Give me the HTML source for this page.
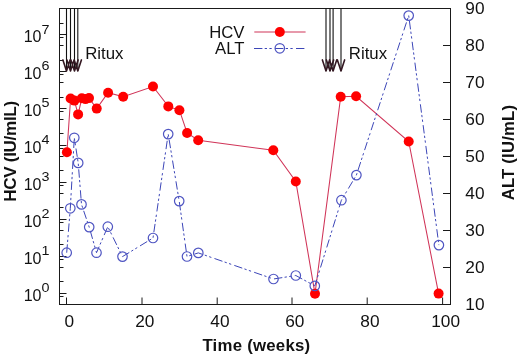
<!DOCTYPE html><html><head><meta charset="utf-8"><style>html,body{margin:0;padding:0;background:#fff;}svg{display:block;will-change:transform;}text{font-family:"Liberation Sans",sans-serif;}</style></head><body>
<svg width="520" height="358" viewBox="0 0 520 358">
<rect x="0" y="0" width="520" height="358" fill="#fff"/>
<path d="M59.5,293.50H66.5M59.5,256.50H66.5M59.5,219.50H66.5M59.5,182.50H66.5M59.5,145.50H66.5M59.5,108.50H66.5M59.5,71.50H66.5M59.5,34.50H66.5M59.5,296.50H63.5M59.5,281.50H63.5M59.5,267.50H63.5M59.5,259.50H63.5M59.5,244.50H63.5M59.5,230.50H63.5M59.5,222.50H63.5M59.5,207.50H63.5M59.5,193.50H63.5M59.5,185.50H63.5M59.5,170.50H63.5M59.5,156.50H63.5M59.5,148.50H63.5M59.5,133.50H63.5M59.5,119.50H63.5M59.5,111.50H63.5M59.5,97.50H63.5M59.5,82.50H63.5M59.5,74.50H63.5M59.5,60.50H63.5M59.5,45.50H63.5M59.5,37.50H63.5M59.5,23.50H63.5M450.5,267.50H443.0M450.5,230.50H443.0M450.5,193.50H443.0M450.5,156.50H443.0M450.5,119.50H443.0M450.5,82.50H443.0M450.5,45.50H443.0M66.50,304.5V297.5M142.00,304.5V297.5M217.20,304.5V297.5M292.00,304.5V297.5M367.20,304.5V297.5M442.60,304.5V297.5" stroke="#1a1a1a" stroke-width="1" fill="none"/>
<rect x="59.5" y="8.5" width="391.0" height="296.0" fill="none" stroke="#1a1a1a" stroke-width="1"/>
<path d="M66.5,8.5V71.0M70.5,8.5V71.0M74.5,8.5V71.0M77.8,8.5V71.0M326.0,8.5V71.0M330.0,8.5V71.0M333.1,8.5V71.0M341.0,8.5V71.0" stroke="#111" stroke-width="1.1" fill="none"/>
<path d="M62.9,59.9L66.5,71.0L70.1,59.9M66.9,59.9L70.5,71.0L74.1,59.9M70.9,59.9L74.5,71.0L78.1,59.9M74.2,59.9L77.8,71.0L81.4,59.9M322.4,59.9L326.0,71.0L329.6,59.9M326.4,59.9L330.0,71.0L333.6,59.9M329.5,59.9L333.1,71.0L336.7,59.9M337.4,59.9L341.0,71.0L344.6,59.9" stroke="#341822" stroke-width="1.6" fill="none" stroke-linejoin="round" stroke-linecap="round"/>
<polyline points="66.9,152.2 70.6,98.5 74.4,100.6 78.1,114.4 81.8,98.3 85.5,99.1 89.0,98.1 96.7,108.6 108.1,92.7 123.2,96.8 153.0,86.5 168.3,106.4 179.4,110.2 187.1,133.0 198.2,140.3 273.3,150.2 295.8,181.5 315.0,293.8 340.7,96.8 356.1,96.3 408.7,141.5 438.6,293.6" fill="none" stroke="#d03458" stroke-width="1.05"/>
<circle cx="66.9" cy="152.2" r="5.0" fill="#ff0000"/>
<circle cx="70.6" cy="98.5" r="5.0" fill="#ff0000"/>
<circle cx="74.4" cy="100.6" r="5.0" fill="#ff0000"/>
<circle cx="78.1" cy="114.4" r="5.0" fill="#ff0000"/>
<circle cx="81.8" cy="98.3" r="5.0" fill="#ff0000"/>
<circle cx="85.5" cy="99.1" r="5.0" fill="#ff0000"/>
<circle cx="89.0" cy="98.1" r="5.0" fill="#ff0000"/>
<circle cx="96.7" cy="108.6" r="5.0" fill="#ff0000"/>
<circle cx="108.1" cy="92.7" r="5.0" fill="#ff0000"/>
<circle cx="123.2" cy="96.8" r="5.0" fill="#ff0000"/>
<circle cx="153.0" cy="86.5" r="5.0" fill="#ff0000"/>
<circle cx="168.3" cy="106.4" r="5.0" fill="#ff0000"/>
<circle cx="179.4" cy="110.2" r="5.0" fill="#ff0000"/>
<circle cx="187.1" cy="133.0" r="5.0" fill="#ff0000"/>
<circle cx="198.2" cy="140.3" r="5.0" fill="#ff0000"/>
<circle cx="273.3" cy="150.2" r="5.0" fill="#ff0000"/>
<circle cx="295.8" cy="181.5" r="5.0" fill="#ff0000"/>
<circle cx="315.0" cy="293.8" r="5.0" fill="#ff0000"/>
<circle cx="340.7" cy="96.8" r="5.0" fill="#ff0000"/>
<circle cx="356.1" cy="96.3" r="5.0" fill="#ff0000"/>
<circle cx="408.7" cy="141.5" r="5.0" fill="#ff0000"/>
<circle cx="438.6" cy="293.6" r="5.0" fill="#ff0000"/>
<polyline points="66.7,252.7 70.3,208.3 74.3,137.8 78.2,162.9 81.5,204.4 89.2,227.1 96.5,252.7 107.8,226.7 122.5,256.6 153.0,238.0 168.2,134.1 179.2,201.1 187.0,256.5 198.3,252.9 273.5,279.0 295.8,275.5 314.8,285.9 341.4,200.2 356.4,175.1 408.7,15.6 438.9,245.1" fill="none" stroke="#3c46b8" stroke-width="1" stroke-dasharray="8.4 2.3 2.3 2.4 2.3 3.3"/>
<circle cx="66.7" cy="252.7" r="4.75" fill="none" stroke="#4f55c2" stroke-width="1.2"/>
<circle cx="70.3" cy="208.3" r="4.75" fill="none" stroke="#4f55c2" stroke-width="1.2"/>
<circle cx="74.3" cy="137.8" r="4.75" fill="none" stroke="#4f55c2" stroke-width="1.2"/>
<circle cx="78.2" cy="162.9" r="4.75" fill="none" stroke="#4f55c2" stroke-width="1.2"/>
<circle cx="81.5" cy="204.4" r="4.75" fill="none" stroke="#4f55c2" stroke-width="1.2"/>
<circle cx="89.2" cy="227.1" r="4.75" fill="none" stroke="#4f55c2" stroke-width="1.2"/>
<circle cx="96.5" cy="252.7" r="4.75" fill="none" stroke="#4f55c2" stroke-width="1.2"/>
<circle cx="107.8" cy="226.7" r="4.75" fill="none" stroke="#4f55c2" stroke-width="1.2"/>
<circle cx="122.5" cy="256.6" r="4.75" fill="none" stroke="#4f55c2" stroke-width="1.2"/>
<circle cx="153.0" cy="238.0" r="4.75" fill="none" stroke="#4f55c2" stroke-width="1.2"/>
<circle cx="168.2" cy="134.1" r="4.75" fill="none" stroke="#4f55c2" stroke-width="1.2"/>
<circle cx="179.2" cy="201.1" r="4.75" fill="none" stroke="#4f55c2" stroke-width="1.2"/>
<circle cx="187.0" cy="256.5" r="4.75" fill="none" stroke="#4f55c2" stroke-width="1.2"/>
<circle cx="198.3" cy="252.9" r="4.75" fill="none" stroke="#4f55c2" stroke-width="1.2"/>
<circle cx="273.5" cy="279.0" r="4.75" fill="none" stroke="#4f55c2" stroke-width="1.2"/>
<circle cx="295.8" cy="275.5" r="4.75" fill="none" stroke="#4f55c2" stroke-width="1.2"/>
<circle cx="314.8" cy="285.9" r="4.75" fill="none" stroke="#4f55c2" stroke-width="1.2"/>
<circle cx="341.4" cy="200.2" r="4.75" fill="none" stroke="#4f55c2" stroke-width="1.2"/>
<circle cx="356.4" cy="175.1" r="4.75" fill="none" stroke="#4f55c2" stroke-width="1.2"/>
<circle cx="408.7" cy="15.6" r="4.75" fill="none" stroke="#4f55c2" stroke-width="1.2"/>
<circle cx="438.9" cy="245.1" r="4.75" fill="none" stroke="#4f55c2" stroke-width="1.2"/>
<line x1="254.3" y1="32.0" x2="305.6" y2="32.0" stroke="#d03458" stroke-width="1.05"/>
<circle cx="279.8" cy="32.0" r="5.0" fill="#ff0000"/>
<line x1="254.0" y1="48.5" x2="305.6" y2="48.5" stroke="#3c46b8" stroke-width="1" stroke-dasharray="8.4 2.3 2.3 2.4 2.3 3.3"/>
<circle cx="279.8" cy="48.3" r="4.75" fill="none" stroke="#4f55c2" stroke-width="1.2"/>
<text x="244.4" y="37.7" font-size="16.7" text-anchor="end" fill="#111">HCV</text>
<text x="244.4" y="53.6" font-size="16.7" text-anchor="end" fill="#111">ALT</text>
<text x="85.2" y="58.5" font-size="16.8" fill="#111">Ritux</text>
<text x="348.8" y="58.5" font-size="16.8" fill="#111">Ritux</text>
<text transform="translate(69.25,326.6) scale(1.08,1)" font-size="16" text-anchor="middle" fill="#111">0</text>
<text transform="translate(144.75,326.6) scale(1.08,1)" font-size="16" text-anchor="middle" fill="#111">20</text>
<text transform="translate(219.90,326.6) scale(1.08,1)" font-size="16" text-anchor="middle" fill="#111">40</text>
<text transform="translate(294.75,326.6) scale(1.08,1)" font-size="16" text-anchor="middle" fill="#111">60</text>
<text transform="translate(369.90,326.6) scale(1.08,1)" font-size="16" text-anchor="middle" fill="#111">80</text>
<text transform="translate(445.60,326.6) scale(1.08,1)" font-size="16" text-anchor="middle" fill="#111">100</text>
<text x="23.68" y="300.50" font-size="16" fill="#111">10</text>
<text transform="translate(41.40,292.40) scale(1.15,1)" font-size="12.5" fill="#111">0</text>
<text x="23.68" y="263.52" font-size="16" fill="#111">10</text>
<text transform="translate(41.40,255.42) scale(1.15,1)" font-size="12.5" fill="#111">1</text>
<text x="23.68" y="226.53" font-size="16" fill="#111">10</text>
<text transform="translate(41.40,218.43) scale(1.15,1)" font-size="12.5" fill="#111">2</text>
<text x="23.68" y="189.54" font-size="16" fill="#111">10</text>
<text transform="translate(41.40,181.44) scale(1.15,1)" font-size="12.5" fill="#111">3</text>
<text x="23.68" y="152.56" font-size="16" fill="#111">10</text>
<text transform="translate(41.40,144.46) scale(1.15,1)" font-size="12.5" fill="#111">4</text>
<text x="23.68" y="115.57" font-size="16" fill="#111">10</text>
<text transform="translate(41.40,107.47) scale(1.15,1)" font-size="12.5" fill="#111">5</text>
<text x="23.68" y="78.59" font-size="16" fill="#111">10</text>
<text transform="translate(41.40,70.49) scale(1.15,1)" font-size="12.5" fill="#111">6</text>
<text x="23.68" y="41.60" font-size="16" fill="#111">10</text>
<text transform="translate(41.40,33.50) scale(1.15,1)" font-size="12.5" fill="#111">7</text>
<text transform="translate(484.5,309.80) scale(1.08,1)" font-size="16" text-anchor="end" fill="#111">10</text>
<text transform="translate(484.5,272.81) scale(1.08,1)" font-size="16" text-anchor="end" fill="#111">20</text>
<text transform="translate(484.5,235.83) scale(1.08,1)" font-size="16" text-anchor="end" fill="#111">30</text>
<text transform="translate(484.5,198.84) scale(1.08,1)" font-size="16" text-anchor="end" fill="#111">40</text>
<text transform="translate(484.5,161.86) scale(1.08,1)" font-size="16" text-anchor="end" fill="#111">50</text>
<text transform="translate(484.5,124.87) scale(1.08,1)" font-size="16" text-anchor="end" fill="#111">60</text>
<text transform="translate(484.5,87.88) scale(1.08,1)" font-size="16" text-anchor="end" fill="#111">70</text>
<text transform="translate(484.5,50.90) scale(1.08,1)" font-size="16" text-anchor="end" fill="#111">80</text>
<text transform="translate(484.5,13.91) scale(1.08,1)" font-size="16" text-anchor="end" fill="#111">90</text>
<text x="202.4" y="351" font-size="16.8" font-weight="bold" textLength="107.8" lengthAdjust="spacing" fill="#111">Time (weeks)</text>
<text transform="translate(15.8,201.8) rotate(-90)" x="0" y="0" font-size="17.1" font-weight="bold" textLength="101.0" lengthAdjust="spacing" fill="#111">HCV (IU/mlL)</text>
<text transform="translate(513.9,200.3) rotate(-90)" x="0" y="0" font-size="16.7" font-weight="bold" textLength="95.3" lengthAdjust="spacing" fill="#111">ALT (IU/mL)</text>
</svg></body></html>
